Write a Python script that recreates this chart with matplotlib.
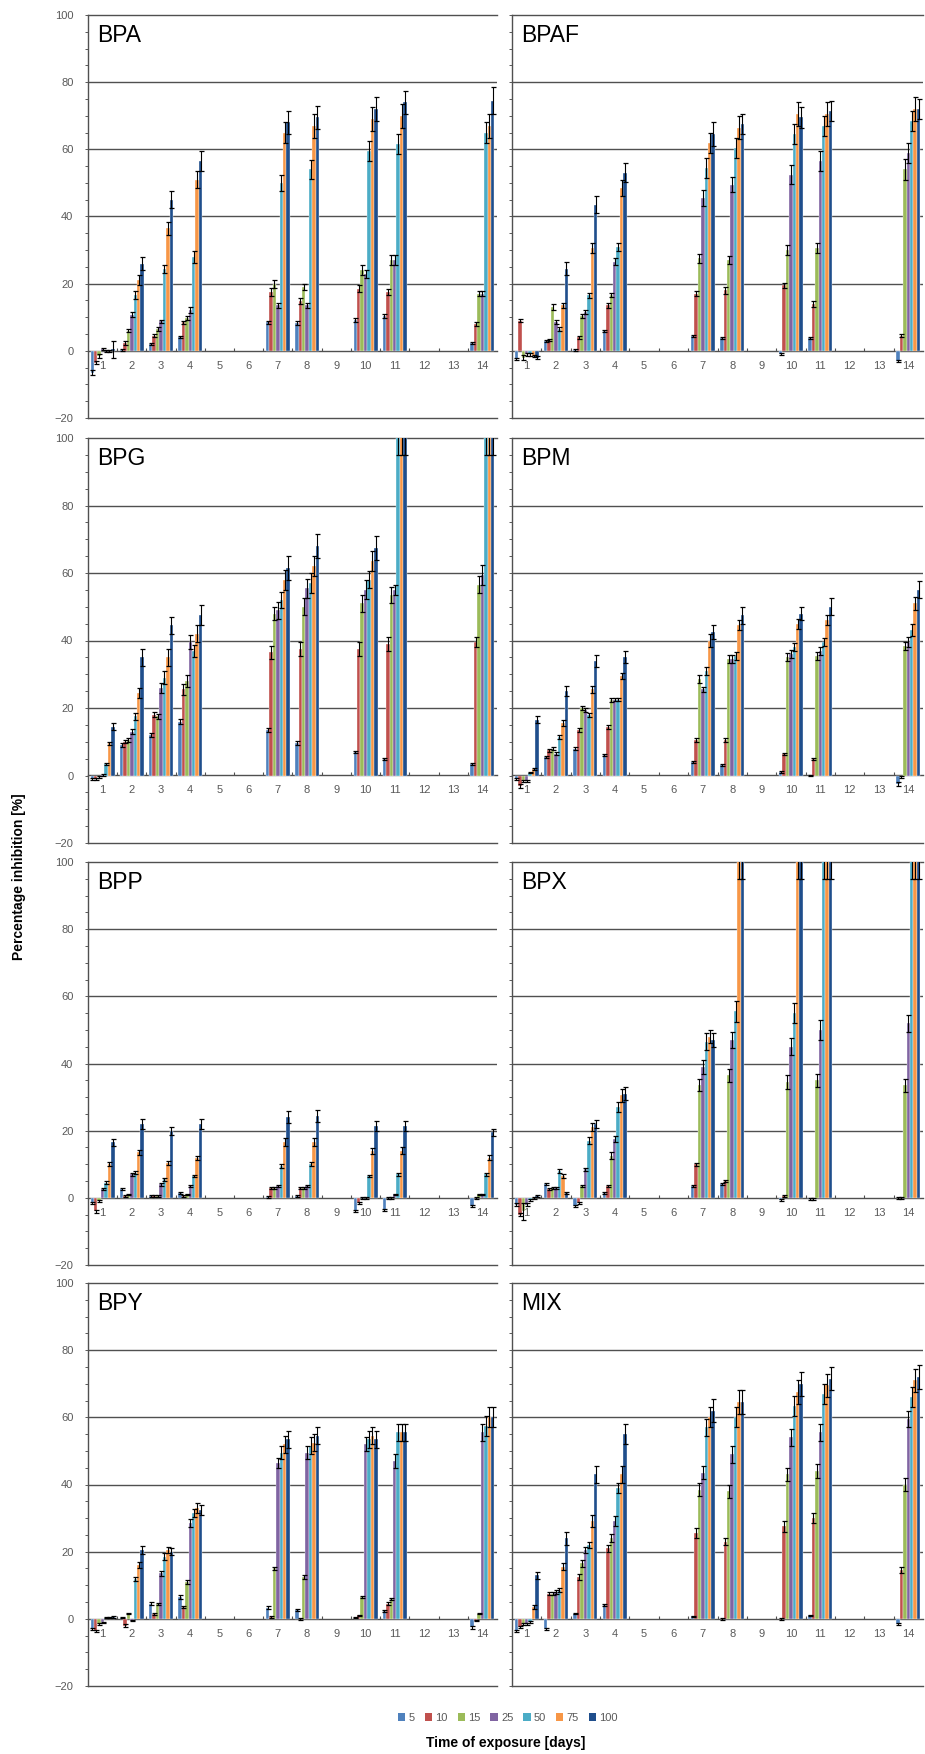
import numpy as np
import matplotlib
matplotlib.use("Agg")
import matplotlib.pyplot as plt
from matplotlib.patches import Patch
from matplotlib.ticker import MultipleLocator

plt.rcParams['font.family'] = ['Liberation Sans', 'DejaVu Sans']

# ---------------- data ----------------
days_all = list(range(1, 15))
days = [1, 2, 3, 4, 7, 8, 10, 11, 14]
series = ["5", "10", "15", "25", "50", "75", "100"]
colors = ["#4F81BD", "#C0504D", "#9BBB59", "#8064A2", "#4BACC6", "#F79646", "#1F4E8C"]

# rows = days (1,2,3,4,7,8,10,11,14); columns = series (5..100)
bpa = [[-6.5, -3.5, -1.5, 0.5, 0.0, 0.0, 0.5],
       [0.3, 2.3, 6.0, 10.8, 16.5, 21.0, 26.0],
       [2.0, 4.5, 6.5, 8.8, 24.5, 36.5, 45.0],
       [4.0, 8.5, 9.8, 12.2, 28.0, 51.0, 56.5],
       [8.5, 17.5, 20.0, 13.5, 50.0, 65.0, 68.0],
       [8.3, 14.8, 19.0, 13.5, 54.0, 67.0, 69.5],
       [9.3, 18.5, 24.0, 23.0, 59.5, 69.0, 72.0],
       [10.5, 17.5, 27.0, 27.0, 61.5, 70.0, 74.0],
       [2.2, 8.0, 17.0, 17.0, 65.0, 67.0, 74.5]]
bpa_err = [[0.8, 0.5, 0.5, 0.3, 0.3, 0.3, 2.5],
           [0.3, 0.5, 0.5, 0.8, 1.2, 1.5, 1.8],
           [0.3, 0.5, 0.5, 0.5, 1.2, 2.0, 2.5],
           [0.3, 0.5, 0.5, 0.8, 1.8, 2.5, 3.0],
           [0.5, 1.2, 1.2, 0.8, 2.5, 3.0, 3.5],
           [0.5, 1.0, 1.0, 0.8, 2.8, 3.5, 3.5],
           [0.6, 1.0, 1.5, 1.2, 3.0, 3.5, 3.5],
           [0.6, 1.0, 1.5, 1.5, 3.0, 3.5, 3.5],
           [0.3, 0.6, 0.8, 0.8, 3.0, 3.5, 4.0]]

bpaf = [[-2.5, 9.0, -2.0, -1.0, -1.0, -1.5, -2.0],
        [3.0, 3.2, 13.0, 8.5, 6.5, 13.5, 24.5],
        [0.2, 4.0, 10.5, 11.5, 16.5, 30.5, 43.5],
        [6.0, 13.5, 16.5, 26.5, 31.0, 48.5, 53.0],
        [4.5, 17.0, 27.5, 45.5, 54.5, 62.0, 64.5],
        [3.8, 18.0, 27.0, 49.5, 60.5, 66.5, 67.5],
        [-1.0, 19.5, 30.0, 52.5, 64.5, 70.5, 69.5],
        [3.8, 14.0, 30.5, 56.5, 67.0, 70.5, 71.5],
        [-3.0, 4.5, 54.0, 59.0, 68.5, 72.0, 72.0]]
bpaf_err = [[0.3, 0.5, 0.8, 0.4, 0.4, 0.4, 0.5],
            [0.3, 0.3, 0.8, 0.6, 0.5, 0.8, 2.0],
            [0.2, 0.4, 0.6, 0.6, 0.8, 1.5, 2.5],
            [0.3, 0.6, 0.6, 1.0, 1.2, 2.5, 2.8],
            [0.3, 0.8, 1.2, 2.5, 3.0, 3.0, 3.5],
            [0.3, 1.0, 1.2, 2.2, 3.0, 3.5, 3.0],
            [0.3, 0.8, 1.5, 2.8, 3.0, 3.5, 3.0],
            [0.3, 0.8, 1.5, 3.0, 3.0, 3.5, 3.0],
            [0.3, 0.4, 3.0, 3.0, 3.0, 3.5, 3.0]]

bpg = [[-1.0, -1.0, -0.5, 0.2, 3.5, 9.5, 14.5],
       [9.0, 10.0, 10.5, 13.0, 17.5, 24.5, 35.0],
       [12.0, 18.0, 17.5, 26.0, 29.0, 35.0, 44.5],
       [16.0, 25.5, 28.0, 39.5, 37.0, 42.0, 47.5],
       [13.5, 36.5, 48.0, 49.0, 52.0, 58.0, 61.5],
       [9.5, 37.5, 50.0, 55.5, 57.0, 62.0, 68.0],
       [7.0, 37.5, 51.0, 55.0, 58.0, 63.5, 67.5],
       [5.0, 39.0, 53.5, 55.0, 104.0, 104.0, 104.0],
       [3.5, 39.5, 56.5, 59.5, 104.0, 104.0, 104.0]]
bpg_err = [[0.3, 0.4, 0.3, 0.2, 0.3, 0.5, 1.0],
           [0.5, 0.5, 0.6, 0.8, 1.0, 1.5, 2.5],
           [0.6, 0.8, 0.8, 1.5, 2.0, 2.5, 2.5],
           [0.6, 1.5, 1.8, 2.0, 1.8, 2.5, 3.0],
           [0.6, 2.0, 2.0, 2.5, 2.5, 3.0, 3.5],
           [0.6, 2.0, 2.5, 2.8, 3.0, 3.0, 3.5],
           [0.3, 2.0, 2.5, 2.8, 2.5, 3.0, 3.5],
           [0.3, 2.0, 2.5, 1.5, 9.0, 9.0, 9.0],
           [0.3, 1.5, 2.5, 3.0, 9.0, 9.0, 9.0]]

bpm = [[-1.0, -3.0, -1.5, -1.5, 0.8, 2.0, 16.5],
       [5.5, 7.5, 8.0, 6.5, 11.5, 15.5, 25.0],
       [8.0, 13.5, 20.0, 19.5, 18.0, 25.5, 34.0],
       [6.0, 14.5, 22.5, 22.5, 22.5, 29.5, 35.0],
       [4.0, 10.5, 28.5, 25.5, 31.0, 40.0, 42.5],
       [3.0, 10.5, 34.5, 34.5, 35.5, 44.5, 47.5],
       [1.0, 6.5, 35.0, 36.0, 38.0, 45.0, 48.0],
       [0.0, 5.0, 35.5, 37.0, 39.5, 46.0, 50.0],
       [-2.5, -0.5, 38.5, 39.5, 43.0, 51.0, 55.0]]
bpm_err = [[0.3, 0.6, 0.3, 0.3, 0.2, 0.3, 1.0],
           [0.3, 0.5, 0.4, 0.5, 0.6, 0.8, 1.5],
           [0.3, 0.6, 0.6, 0.6, 0.6, 1.0, 1.8],
           [0.3, 0.6, 0.6, 0.5, 0.5, 1.0, 1.8],
           [0.3, 0.5, 1.2, 0.8, 1.2, 2.0, 2.0],
           [0.3, 0.5, 1.2, 1.2, 1.2, 1.5, 2.5],
           [0.2, 0.3, 1.2, 1.2, 1.2, 1.5, 2.0],
           [0.2, 0.3, 1.2, 1.2, 1.2, 1.5, 2.5],
           [0.6, 0.3, 1.2, 1.5, 1.8, 2.0, 2.5]]

bpp = [[-1.5, -4.0, -1.0, 2.5, 4.5, 10.0, 16.5],
       [2.5, 0.5, 1.0, 7.0, 7.5, 13.5, 22.0],
       [0.5, 0.5, 0.5, 4.0, 5.5, 10.5, 20.0],
       [1.5, 0.5, 1.0, 3.5, 6.5, 12.0, 22.0],
       [0.2, 2.8, 2.8, 3.5, 9.5, 16.5, 24.0],
       [0.5, 3.0, 3.0, 3.5, 10.0, 16.5, 24.5],
       [-4.0, -1.5, 0.0, 0.0, 6.5, 14.0, 21.5],
       [-3.5, 0.0, 0.0, 1.0, 7.0, 14.0, 21.5],
       [-2.5, 0.0, 1.0, 1.0, 7.0, 12.0, 19.5]]
bpp_err = [[0.3, 0.4, 0.3, 0.3, 0.4, 0.6, 1.0],
           [0.3, 0.2, 0.2, 0.4, 0.4, 0.8, 1.5],
           [0.2, 0.2, 0.2, 0.4, 0.4, 0.6, 1.2],
           [0.3, 0.2, 0.2, 0.4, 0.4, 0.6, 1.5],
           [0.2, 0.3, 0.3, 0.3, 0.6, 1.2, 1.8],
           [0.2, 0.3, 0.3, 0.3, 0.6, 1.2, 1.8],
           [0.3, 0.3, 0.2, 0.2, 0.4, 0.8, 1.5],
           [0.3, 0.2, 0.2, 0.2, 0.4, 1.0, 1.5],
           [0.3, 0.2, 0.2, 0.2, 0.4, 0.8, 1.0]]

bpx = [[-2.0, -5.0, -4.0, -2.0, -0.5, 0.0, 0.5],
       [4.0, 2.5, 3.0, 3.0, 8.0, 6.5, 1.5],
       [-2.5, -1.5, 3.5, 8.5, 17.0, 21.0, 22.0],
       [1.5, 3.5, 12.5, 17.5, 27.0, 30.5, 31.0],
       [3.5, 10.0, 33.5, 39.0, 46.5, 48.0, 47.0],
       [4.0, 5.0, 36.5, 47.0, 55.5, 104.0, 104.0],
       [-0.5, 0.5, 34.5, 45.0, 55.0, 104.0, 104.0],
       [-0.3, -0.3, 35.0, 50.0, 104.0, 104.0, 104.0],
       [0.0, 0.0, 33.5, 52.0, 104.0, 104.0, 104.0]]
bpx_err = [[0.5, 0.5, 2.5, 0.4, 0.3, 0.3, 0.3],
           [0.3, 0.3, 0.3, 0.3, 0.5, 0.5, 0.3],
           [0.3, 0.3, 0.3, 0.5, 1.0, 1.2, 1.2],
           [0.3, 0.4, 1.0, 1.0, 1.5, 2.0, 2.0],
           [0.3, 0.5, 1.8, 2.0, 2.5, 2.0, 2.0],
           [0.3, 0.3, 2.0, 2.5, 3.0, 9.0, 9.0],
           [0.3, 0.3, 2.0, 2.5, 3.0, 9.0, 9.0],
           [0.2, 0.2, 2.0, 3.0, 9.0, 9.0, 9.0],
           [0.2, 0.2, 2.0, 2.5, 9.0, 9.0, 9.0]]

bpy = [[-3.0, -3.5, -1.5, -1.0, 0.3, 0.3, 0.5],
       [0.3, -2.0, 1.5, -0.5, 12.0, 16.0, 20.5],
       [4.5, 1.5, 4.5, 13.5, 18.5, 20.5, 20.0],
       [6.5, 3.5, 11.0, 28.5, 31.5, 33.0, 32.5],
       [3.3, 0.5, 15.0, 46.5, 49.5, 52.0, 53.5],
       [2.5, 0.0, 12.5, 49.5, 51.5, 52.5, 54.5],
       [0.3, 1.0, 6.5, 52.0, 53.5, 54.5, 53.5],
       [2.2, 4.5, 6.0, 47.0, 55.5, 55.5, 55.5],
       [-2.5, -0.5, 1.5, 55.5, 57.5, 60.0, 60.0]]
bpy_err = [[0.3, 0.3, 0.3, 0.2, 0.2, 0.2, 0.2],
           [0.2, 0.4, 0.2, 0.2, 0.6, 0.8, 1.2],
           [0.4, 0.3, 0.3, 0.6, 1.0, 1.0, 1.0],
           [0.6, 0.3, 0.5, 1.2, 1.2, 1.5, 1.5],
           [0.4, 0.2, 0.5, 1.5, 2.0, 2.5, 2.5],
           [0.3, 0.2, 0.5, 2.0, 2.5, 2.5, 2.5],
           [0.2, 0.2, 0.4, 2.0, 2.5, 2.5, 2.5],
           [0.3, 0.4, 0.3, 2.0, 2.5, 2.5, 2.5],
           [0.4, 0.2, 0.2, 2.5, 3.0, 3.0, 3.0]]

mix = [[-3.5, -2.5, -1.5, -1.5, -1.0, 3.5, 13.0],
       [-3.0, 7.5, 7.5, 8.0, 8.5, 15.5, 24.0],
       [1.5, 12.5, 16.5, 20.5, 22.0, 29.0, 43.0],
       [4.0, 21.0, 24.0, 29.0, 39.0, 43.0, 55.0],
       [0.7, 25.5, 38.5, 43.5, 57.0, 60.0, 62.0],
       [0.0, 23.0, 38.0, 49.0, 60.0, 64.5, 64.5],
       [0.0, 27.5, 43.0, 54.0, 63.5, 67.5, 70.0],
       [1.0, 30.0, 44.0, 55.5, 67.0, 69.5, 71.5],
       [-1.5, 14.5, 40.0, 59.5, 66.0, 71.0, 72.0]]
mix_err = [[0.3, 0.3, 0.3, 0.3, 0.3, 0.5, 1.0],
           [0.3, 0.5, 0.5, 0.5, 0.6, 1.0, 2.0],
           [0.2, 0.8, 1.0, 1.0, 1.0, 1.8, 2.5],
           [0.3, 1.0, 1.2, 1.5, 1.5, 2.5, 3.0],
           [0.2, 1.5, 2.0, 2.0, 2.5, 3.0, 3.5],
           [0.2, 1.0, 2.0, 2.5, 3.0, 3.5, 3.5],
           [0.2, 1.5, 2.0, 2.5, 3.0, 3.5, 3.5],
           [0.2, 1.5, 2.0, 2.5, 3.0, 3.5, 3.5],
           [0.2, 1.0, 2.0, 2.5, 3.0, 3.5, 3.5]]

panel_names = ["BPA", "BPAF", "BPG", "BPM", "BPP", "BPX", "BPY", "MIX"]
panel_values = [bpa, bpaf, bpg, bpm, bpp, bpx, bpy, mix]
panel_errors = [bpa_err, bpaf_err, bpg_err, bpm_err, bpp_err, bpx_err, bpy_err, mix_err]

# ---------------- figure ----------------
W, H = 925, 1754
fig = plt.figure(figsize=(W / 100, H / 100), dpi=100)

col_x = [(88, 497), (512, 923)]
row_y = [(15, 418), (438, 843), (862, 1265), (1283, 1686)]

grid_c = "#505050"
tick_c = "#595959"
group_w = 0.82
bw = group_w / len(series)

for i, name in enumerate(panel_names):
    r, c = divmod(i, 2)
    x0, x1 = col_x[c]
    y0, y1 = row_y[r]
    ax = fig.add_axes([x0 / W, 1 - y1 / H, (x1 - x0) / W, (y1 - y0) / H])
    vals = np.array(panel_values[i])
    errs = np.array(panel_errors[i])
    dx = np.array(days, dtype=float)
    for s in range(len(series)):
        xs = dx - group_w / 2 + bw * (s + 0.5)
        ax.bar(xs, vals[:, s], width=bw, color=colors[s], edgecolor="white",
               linewidth=0.25, zorder=3)
        ax.errorbar(xs, vals[:, s], yerr=errs[:, s], fmt="none", ecolor="black",
                    elinewidth=0.8, capsize=1.8, capthick=0.9, zorder=4)
    ax.set_xlim(0.5, 14.5)
    ax.set_ylim(-20, 100)
    for g in [20, 40, 60, 80]:
        ax.axhline(g, color=grid_c, lw=1.0, zorder=1)
    for side in ["top", "bottom", "left"]:
        ax.spines[side].set_color(grid_c)
        ax.spines[side].set_linewidth(1.0)
    ax.spines["right"].set_visible(False)
    ax.set_xticks([])
    ax.set_yticks([-20, 0, 20, 40, 60, 80, 100])
    ax.yaxis.set_minor_locator(MultipleLocator(5))
    ax.tick_params(axis="y", which="both", length=2.5, width=0.7, color=tick_c,
                   labelsize=8, labelcolor=tick_c, pad=8)
    if c == 1:
        ax.set_yticklabels([])
    # category axis at y = 0
    sec = ax.secondary_xaxis(20 / 120)
    sec.set_xticks(days_all)
    sec.set_xticklabels([str(d) for d in days_all])
    sec.set_xticks([d + 0.5 for d in days_all[:-1]], minor=True)
    sec.spines["bottom"].set_color(grid_c)
    sec.spines["bottom"].set_linewidth(1.0)
    sec.tick_params(axis="x", which="major", length=0, labelsize=8,
                    labelcolor=tick_c, pad=7)
    sec.tick_params(axis="x", which="minor", length=2.5, width=0.8,
                    direction="in", color=grid_c)
    ax.text(0.022, 0.978, name, transform=ax.transAxes, ha="left", va="top",
            fontsize=16.5, color="black")

fig.text(19 / W, 0.5, "Percentage inhibition [%]", rotation=90, ha="center",
         va="center", fontsize=10, fontweight="bold")
fig.text(506 / W, 1 - 1743 / H, "Time of exposure [days]", ha="center",
         va="center", fontsize=10, fontweight="bold")

handles = [Patch(facecolor=colors[k], edgecolor="none", label=series[k])
           for k in range(len(series))]
leg = fig.legend(handles=handles, loc="center", bbox_to_anchor=(508 / W, 1 - 1718 / H),
                 ncol=7, frameon=False, fontsize=8, handlelength=0.65,
                 handleheight=0.65, handletextpad=0.3, columnspacing=0.9)
for t in leg.get_texts():
    t.set_color(tick_c)

fig.savefig("out.png", dpi=100)
